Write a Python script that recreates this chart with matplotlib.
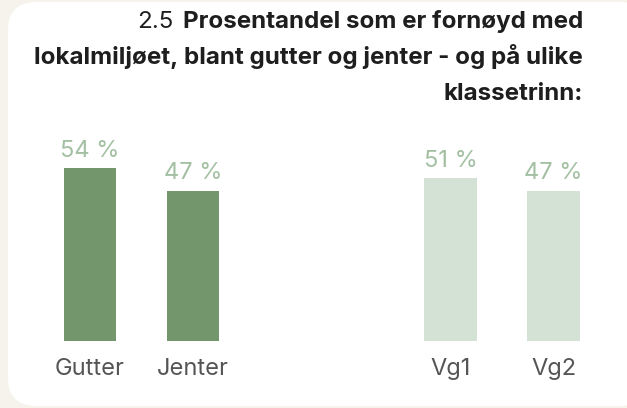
import matplotlib.pyplot as plt
from matplotlib.patches import FancyBboxPatch
from matplotlib.transforms import blended_transform_factory, offset_copy

plt.rcParams["font.family"] = ["Inter", "DejaVu Sans"]

# data
categories = ["Gutter", "Jenter", "Vg1", "Vg2"]
values = [54, 47, 51, 47]
positions = [0, 1, 3.5, 4.5]
bar_colors = ["#74966c", "#74966c", "#d4e1d5", "#d4e1d5"]

title_num = "2.5"
title_lines = [
    "Prosentandel som er fornøyd med",
    "lokalmiljøet, blant gutter og jenter - og på ulike",
    "klassetrinn:",
]

BG = "#f6f3ec"
W, H = 627, 408

fig = plt.figure(figsize=(W / 100, H / 100), dpi=100, facecolor=BG)

# white rounded card, kept behind the axes
card = FancyBboxPatch((8 / W, 2 / H), 640 / W, 404 / H,
                      boxstyle="round,pad=0,rounding_size=0.045",
                      transform=fig.transFigure, facecolor="white",
                      edgecolor="none", mutation_aspect=W / H, zorder=-5)
fig.patches.append(card)

# title, right aligned, three lines
renderer = fig.canvas.get_renderer()
baselines = [28, 64, 100]
right_x = 583 / W
first = None
for line, yb in zip(title_lines, baselines):
    t = fig.text(right_x, 1 - yb / H, line, ha="right", va="baseline",
                 fontsize=17.4, fontweight="bold", color="#1e1e1e")
    if first is None:
        first = t
bb = first.get_window_extent(renderer)
fig.text((bb.x0 - 9) / W, 1 - baselines[0] / H, title_num, ha="right",
         va="baseline", fontsize=17.4, color="#1e1e1e")

# bars
ax = fig.add_axes([38.5 / W, (H - 341) / H, 566.5 / W, 192 / H])
ax.set_xlim(-0.5, 5.0)
ax.set_ylim(0, 60)
ax.bar(positions, values, width=0.505, color=bar_colors)
ax.axis("off")

for x, v in zip(positions, values):
    ax.annotate(f"{v} %", (x, v), xytext=(0, 8), textcoords="offset points",
                ha="center", va="baseline", fontsize=17, fontweight="normal",
                color="#a3c0a2", annotation_clip=False)

trans = blended_transform_factory(ax.transData, ax.transAxes)
trans = offset_copy(trans, fig=fig, y=-34, units="dots")
for x, c in zip(positions, categories):
    ax.text(x, 0, c, transform=trans, ha="center", va="baseline",
            fontsize=17, color="#555555")

fig.savefig("out.png", dpi=100, facecolor=BG)
